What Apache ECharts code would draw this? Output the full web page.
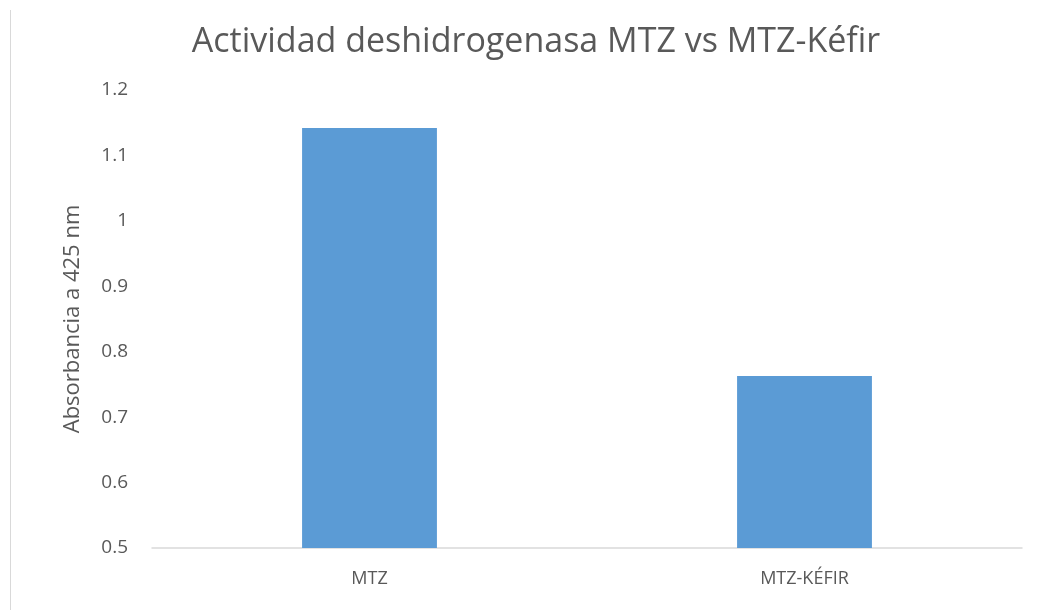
<!DOCTYPE html>
<html>
<head>
<meta charset="utf-8">
<script src="https://cdn.jsdelivr.net/npm/echarts@6/dist/echarts.min.js"></script>
<style>
  html, body { margin: 0; padding: 0; background: #fff; }
  #chart { width: 1047px; height: 610px; }
</style>
</head>
<body>
<div id="chart"></div>
<script>
// data
var categories = ['MTZ', 'MTZ-KÉFIR'];
var absorbancia = [1.142, 0.763];
var yTicks = { min: 0.5, max: 1.2, step: 0.1 };

var chart = echarts.init(document.getElementById('chart'));

var option = {
  backgroundColor: '#fff',
  animation: false,
  title: {
    text: 'Actividad deshidrogenasa MTZ vs MTZ-Kéfir',
    left: 531,
    textAlign: 'center',
    top: 20,
    textStyle: {
      fontFamily: 'Open Sans',
      fontWeight: 'normal',
      fontSize: 34,
      color: '#595959'
    }
  },
  graphic: [{
    // thin frame line on the left edge
    type: 'line',
    shape: { x1: 10.5, y1: 10, x2: 10.5, y2: 610 },
    style: { stroke: '#d9d9d9', lineWidth: 1 }
  }],
  grid: {
    left: 152,
    right: 25,
    top: 90,
    bottom: 62
  },
  xAxis: {
    type: 'category',
    data: categories,
    axisLine: { lineStyle: { color: '#d9d9d9', width: 1.5 } },
    axisTick: { show: false },
    axisLabel: {
      margin: 22,
      fontFamily: 'Open Sans',
      fontSize: 18,
      color: '#595959'
    }
  },
  yAxis: {
    type: 'value',
    min: yTicks.min,
    max: yTicks.max,
    interval: yTicks.step,
    name: 'Absorbancia a 425 nm',
    nameLocation: 'middle',
    nameGap: 68,
    nameTextStyle: {
      fontFamily: 'Open Sans',
      fontSize: 22,
      color: '#595959'
    },
    axisLine: { show: false },
    axisTick: { show: false },
    splitLine: { show: false },
    axisLabel: {
      margin: 24,
      fontFamily: 'Open Sans',
      fontSize: 19,
      color: '#595959',
      formatter: function (v) { return String(Math.round(v * 10) / 10); }
    }
  },
  series: [{
    name: 'Absorbancia',
    type: 'bar',
    data: absorbancia,
    barWidth: '31%',
    itemStyle: { color: '#5b9bd5' }
  }]
};

chart.setOption(option);
</script>
</body>
</html>
